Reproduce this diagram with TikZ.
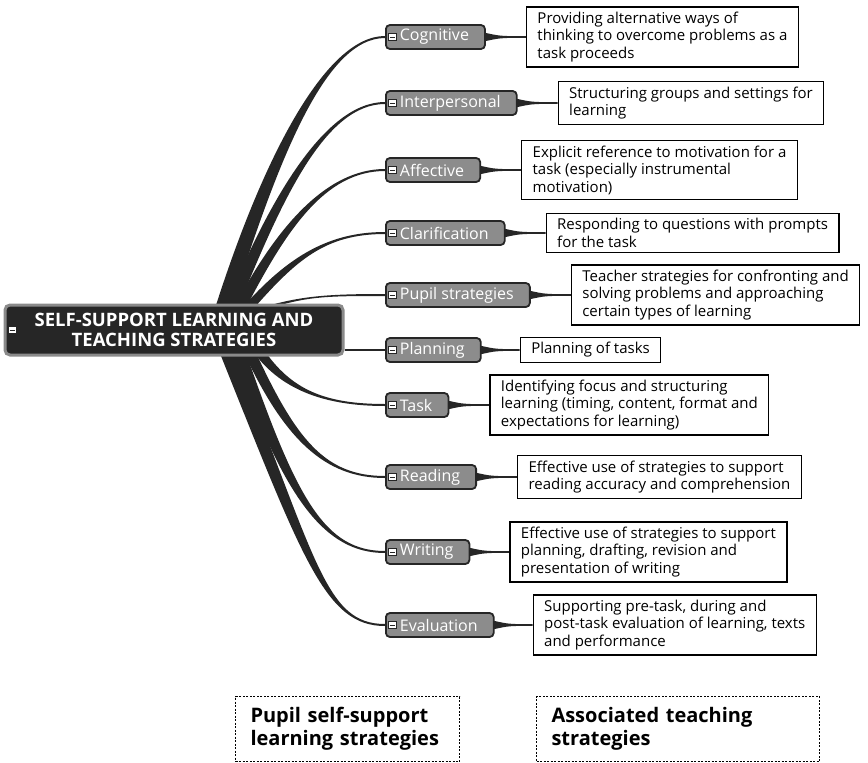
\documentclass[tikz,border=0pt]{standalone}
\usepackage{fontspec}
\setmainfont{Open Sans}
\usetikzlibrary{positioning, calc, backgrounds}

\definecolor{ink}{HTML}{262626}
\definecolor{topicgrey}{HTML}{8C8C8C}
\definecolor{hubrim}{HTML}{8A8A8A}

\tikzset{
  minusicon/.style={path picture={
      \draw[sharp corners, fill=white, draw=ink, line width=0.6pt]
        ([xshift=#1,yshift=3.5pt]path picture bounding box.west) rectangle ++(8pt,-7pt);
      \draw[sharp corners, ink, line width=1pt]
        ([xshift=#1+1.5pt]path picture bounding box.west) -- ++(5pt,0pt);}},
  hub/.style={rounded corners=5pt, fill=ink, draw=hubrim, line width=3pt,
    text=white, font=\bfseries\fontsize{18.5}{20}\selectfont, align=center,
    minimum width=338pt, minimum height=50pt, minusicon=3pt},
  topic/.style={anchor=west, rounded corners=4pt, fill=topicgrey, draw=ink,
    line width=1.8pt, text=white, font=\fontsize{16}{18}\selectfont,
    minimum height=24pt, inner ysep=1pt, inner xsep=5pt,
    execute at begin node={\hspace*{9pt}}, execute at end node={\hspace*{11pt}},
    minusicon=2.5pt},
  note/.style={draw=black, line width=1.2pt, fill=white, align=left,
    inner xsep=11pt, inner ysep=5pt, font=\fontsize{15}{17.5}\selectfont},
  key/.style={anchor=north west, draw=black, line width=1pt,
    dash pattern=on 2pt off 1.5pt, align=left, inner xsep=15pt,
    minimum height=65pt, font=\bfseries\fontsize{20}{23}\selectfont},
  limb/.style={fill=ink}
}

\newcommand\limb[5]{%
  \fill[limb] ($(#1)+({-(#4)},0)$) .. controls ($(#2)+({-(#4)},0)$) and ($(#3.west)+(-60,{-(#5)})$) .. ($(#3.west)+(0,{-(#5)})$)
    -- ($(#3.west)+(0,#5)$) .. controls ($(#3.west)+(-60,#5)$) and ($(#2)+(#4,0)$) .. ($(#1)+(#4,0)$) -- cycle;}

\newcommand\tie[2]{%
  \fill[limb] ($(#1.east)+(-2,-4.5)$) .. controls ($(#1.east)+(14,-0.9)$) .. ($(#2.west)+(0,-0.8)$)
    -- ($(#2.west)+(0,0.8)$) .. controls ($(#1.east)+(14,0.9)$) .. ($(#1.east)+(-2,4.5)$) -- cycle;}

\begin{document}
\begin{tikzpicture}[x=1pt, y=-1pt]
  \useasboundingbox (0,0) rectangle (868,763);

  \node[hub] (hub) at (174,330) {SELF-SUPPORT LEARNING AND\\TEACHING STRATEGIES};

  \node[topic] (cog) at (385,37) {Cognitive};
  \node[topic] (inter) at (385,103) {Interpersonal};
  \node[topic] (aff) at (385,170) {Affective};
  \node[topic] (clar) at (385,233) {Clarification};
  \node[topic] (pupil) at (385,295) {Pupil strategies};
  \node[topic] (plan) at (385,350) {Planning};
  \node[topic] (task) at (385,405) {Task};
  \node[topic] (read) at (385,477) {Reading};
  \node[topic] (write) at (385,552) {Writing};
  \node[topic] (eval) at (385,625) {Evaluation};

  \node[note, right=40pt of cog] (cogN) {Providing alternative ways of\\thinking to overcome problems as a\\task proceeds};
  \node[note, right=40pt of inter] (interN) {Structuring groups and settings for\\learning};
  \node[note, right=40pt of aff] (affN) {Explicit reference to motivation for a\\task (especially instrumental\\motivation)};
  \node[note, right=40pt of clar] (clarN) {Responding to questions with prompts\\for the task};
  \node[note, right=40pt of pupil] (pupilN) {Teacher strategies for confronting and\\solving problems and approaching\\certain types of learning};
  \node[note, right=38pt of plan] (planN) {Planning of tasks};
  \node[note, right=40pt of task] (taskN) {Identifying focus and structuring\\learning (timing, content, format and\\expectations for learning)};
  \node[note, right=40pt of read] (readN) {Effective use of strategies to support\\reading accuracy and comprehension};
  \node[note, right=39pt of write] (writeN) {Effective use of strategies to support\\planning, drafting, revision and\\presentation of writing};
  \node[note, right=38pt of eval] (evalN) {Supporting pre-task, during and\\post-task evaluation of learning, texts\\and performance};

  \node[key, text width=194pt] (keyA) at (235,696) {Pupil self-support\\learning strategies};
  \node[key, text width=253pt, right=76pt of keyA] (keyB) {Associated teaching\\strategies};

  \coordinate (cogS) at ($(hub.north)+(48,8)$);
  \coordinate (interS) at ($(hub.north)+(56,8)$);
  \coordinate (affS) at ($(hub.north)+(64,8)$);
  \coordinate (clarS) at ($(hub.north)+(71,8)$);
  \coordinate (pupilS) at ($(hub.north)+(81,8)$);
  \coordinate (taskS) at ($(hub.south)+(83,-8)$);
  \coordinate (readS) at ($(hub.south)+(74,-8)$);
  \coordinate (writeS) at ($(hub.south)+(64,-8)$);
  \coordinate (evalS) at ($(hub.south)+(51,-8)$);

  \begin{scope}[on background layer]
    \limb{cogS}{270,160}{cog}{8}{1}
    \limb{interS}{275,200}{inter}{6.5}{1}
    \limb{affS}{280,230}{aff}{6}{1}
    \limb{clarS}{290,260}{clar}{6}{1}
    \limb{pupilS}{300,296}{pupil}{5}{1}
    \draw[ink, line width=2pt] (hub.east |- plan.west) -- (plan.west);
    \limb{taskS}{285,390}{task}{6}{-1}
    \limb{readS}{290,440}{read}{6}{-1}
    \limb{writeS}{290,500}{write}{6.5}{-1}
    \limb{evalS}{310,560}{eval}{7}{-1}

    \tie{cog}{cogN}
    \tie{inter}{interN}
    \tie{aff}{affN}
    \tie{clar}{clarN}
    \tie{pupil}{pupilN}
    \tie{plan}{planN}
    \tie{task}{taskN}
    \tie{read}{readN}
    \tie{write}{writeN}
    \tie{eval}{evalN}
  \end{scope}
\end{tikzpicture}
\end{document}
